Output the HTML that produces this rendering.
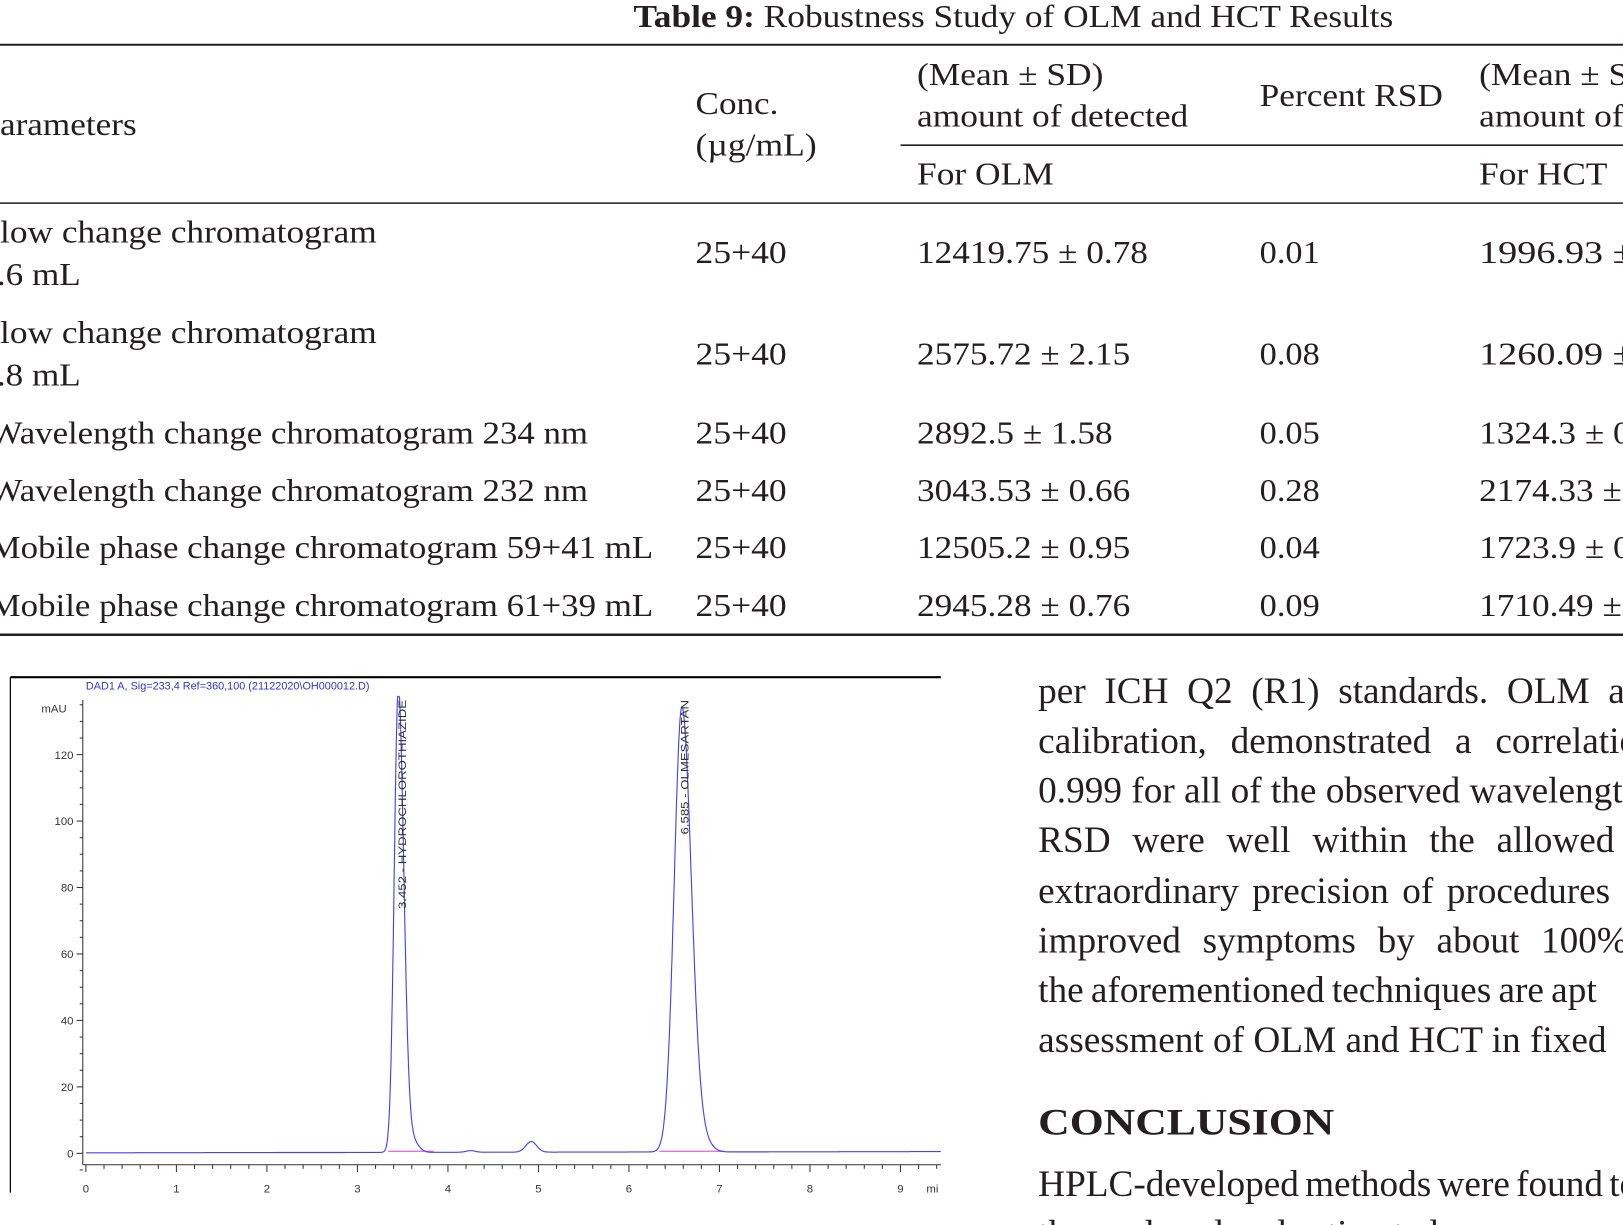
<!DOCTYPE html>
<html><head><meta charset="utf-8"><style>
html,body{margin:0;padding:0;background:#fff;width:1623px;height:1225px;overflow:hidden}
svg{display:block}
.t{font-family:"Liberation Serif",serif;font-size:31px;fill:#231f20}
.p{font-family:"Liberation Serif",serif;font-size:36px;fill:#231f20}
.s{font-family:"Liberation Sans",sans-serif;font-size:11px;fill:#333}
</style></head><body>
<svg width="1623" height="1225" viewBox="0 0 1568 1183" xmlns="http://www.w3.org/2000/svg">
<text class="t" x="612" y="26" textLength="734" lengthAdjust="spacingAndGlyphs"><tspan font-weight="bold">Table 9:</tspan> Robustness Study of OLM and HCT Results</text>
<line x1="0" y1="43" x2="1568" y2="43" stroke="#231f20" stroke-width="2"/>
<text class="t" x="0" y="130" textLength="132" lengthAdjust="spacingAndGlyphs">arameters</text>
<text class="t" x="672" y="110" textLength="80" lengthAdjust="spacingAndGlyphs">Conc.</text>
<text class="t" x="672" y="150" textLength="117" lengthAdjust="spacingAndGlyphs">(µg/mL)</text>
<text class="t" x="886" y="82" textLength="180" lengthAdjust="spacingAndGlyphs">(Mean ± SD)</text>
<text class="t" x="886" y="122" textLength="262" lengthAdjust="spacingAndGlyphs">amount of detected</text>
<text class="t" x="1217" y="102" textLength="177" lengthAdjust="spacingAndGlyphs">Percent RSD</text>
<text class="t" x="1429" y="82" textLength="180" lengthAdjust="spacingAndGlyphs">(Mean ± SD)</text>
<text class="t" x="1429" y="122" textLength="262" lengthAdjust="spacingAndGlyphs">amount of detected</text>
<line x1="870" y1="140" x2="1568" y2="140" stroke="#231f20" stroke-width="1.5"/>
<text class="t" x="886" y="178" textLength="132" lengthAdjust="spacingAndGlyphs">For OLM</text>
<text class="t" x="1429" y="178" textLength="124" lengthAdjust="spacingAndGlyphs">For HCT</text>
<line x1="0" y1="196" x2="1568" y2="196" stroke="#231f20" stroke-width="1.5"/>
<text class="t" x="0" y="234" textLength="364" lengthAdjust="spacingAndGlyphs">low change chromatogram</text>
<text class="t" x="-3" y="275" textLength="81" lengthAdjust="spacingAndGlyphs">.6 mL</text>
<text class="t" x="672" y="254" textLength="88" lengthAdjust="spacingAndGlyphs">25+40</text><text class="t" x="886" y="254" textLength="223" lengthAdjust="spacingAndGlyphs">12419.75 ± 0.78</text><text class="t" x="1217" y="254" textLength="58" lengthAdjust="spacingAndGlyphs">0.01</text><text class="t" x="1429" y="254" textLength="223" lengthAdjust="spacingAndGlyphs">1996.93 ± 0.16</text>
<text class="t" x="0" y="331" textLength="364" lengthAdjust="spacingAndGlyphs">low change chromatogram</text>
<text class="t" x="-3" y="372" textLength="81" lengthAdjust="spacingAndGlyphs">.8 mL</text>
<text class="t" x="672" y="352" textLength="88" lengthAdjust="spacingAndGlyphs">25+40</text><text class="t" x="886" y="352" textLength="206" lengthAdjust="spacingAndGlyphs">2575.72 ± 2.15</text><text class="t" x="1217" y="352" textLength="58" lengthAdjust="spacingAndGlyphs">0.08</text><text class="t" x="1429" y="352" textLength="223" lengthAdjust="spacingAndGlyphs">1260.09 ± 0.16</text>
<text class="t" x="-10" y="428" textLength="578" lengthAdjust="spacingAndGlyphs">Wavelength change chromatogram 234 nm</text>
<text class="t" x="672" y="428" textLength="88" lengthAdjust="spacingAndGlyphs">25+40</text><text class="t" x="886" y="428" textLength="189" lengthAdjust="spacingAndGlyphs">2892.5 ± 1.58</text><text class="t" x="1217" y="428" textLength="58" lengthAdjust="spacingAndGlyphs">0.05</text><text class="t" x="1429" y="428" textLength="189" lengthAdjust="spacingAndGlyphs">1324.3 ± 0.16</text>
<text class="t" x="-10" y="484" textLength="578" lengthAdjust="spacingAndGlyphs">Wavelength change chromatogram 232 nm</text>
<text class="t" x="672" y="484" textLength="88" lengthAdjust="spacingAndGlyphs">25+40</text><text class="t" x="886" y="484" textLength="206" lengthAdjust="spacingAndGlyphs">3043.53 ± 0.66</text><text class="t" x="1217" y="484" textLength="58" lengthAdjust="spacingAndGlyphs">0.28</text><text class="t" x="1429" y="484" textLength="206" lengthAdjust="spacingAndGlyphs">2174.33 ± 0.16</text>
<text class="t" x="-10" y="539" textLength="641" lengthAdjust="spacingAndGlyphs">Mobile phase change chromatogram 59+41 mL</text>
<text class="t" x="672" y="539" textLength="88" lengthAdjust="spacingAndGlyphs">25+40</text><text class="t" x="886" y="539" textLength="206" lengthAdjust="spacingAndGlyphs">12505.2 ± 0.95</text><text class="t" x="1217" y="539" textLength="58" lengthAdjust="spacingAndGlyphs">0.04</text><text class="t" x="1429" y="539" textLength="189" lengthAdjust="spacingAndGlyphs">1723.9 ± 0.16</text>
<text class="t" x="-10" y="595" textLength="641" lengthAdjust="spacingAndGlyphs">Mobile phase change chromatogram 61+39 mL</text>
<text class="t" x="672" y="595" textLength="88" lengthAdjust="spacingAndGlyphs">25+40</text><text class="t" x="886" y="595" textLength="206" lengthAdjust="spacingAndGlyphs">2945.28 ± 0.76</text><text class="t" x="1217" y="595" textLength="58" lengthAdjust="spacingAndGlyphs">0.09</text><text class="t" x="1429" y="595" textLength="206" lengthAdjust="spacingAndGlyphs">1710.49 ± 0.16</text>
<line x1="0" y1="613" x2="1568" y2="613" stroke="#231f20" stroke-width="2.5"/>

<text class="p" x="1003" y="679" word-spacing="9">per ICH Q2 (R1) standards. OLM and</text>
<text class="p" x="1003" y="727" word-spacing="14">calibration, demonstrated a correlation</text>
<text class="p" x="1003" y="775">0.999 for all of the observed wavelengths</text>
<text class="p" x="1003" y="823" word-spacing="12">RSD were well within the allowed limit</text>
<text class="p" x="1003" y="872" word-spacing="4">extraordinary precision of procedures</text>
<text class="p" x="1003" y="920" word-spacing="12">improved symptoms by about 100%</text>
<text class="p" x="1003" y="968" word-spacing="-2">the aforementioned techniques are apt</text>
<text class="p" x="1003" y="1016">assessment of OLM and HCT in fixed</text>
<text class="p" x="1003" y="1096" font-weight="bold" textLength="286" lengthAdjust="spacingAndGlyphs">CONCLUSION</text>
<text class="p" x="1003" y="1155" word-spacing="-3">HPLC-developed methods were found to</text>
<text class="p" x="1003" y="1203">the analysed and estimated</text>

<!-- chart -->
<line x1="10" y1="654" x2="909" y2="654" stroke="#000" stroke-width="2"/>
<line x1="10" y1="654" x2="10" y2="1152" stroke="#000" stroke-width="1.2"/>
<text x="83" y="666" font-family="Liberation Sans,sans-serif" font-size="10.5" fill="#3333cc">DAD1 A, Sig=233,4 Ref=360,100 (21122020\OH000012.D)</text>
<text class="s" x="40" y="688" font-size="10">mAU</text>
<g id="ax" stroke="#333" stroke-width="1"></g>
<g id="lab"></g>
<line x1="80" y1="676" x2="80" y2="1125" stroke="#333"/>
<line x1="80" y1="1125" x2="909" y2="1125" stroke="#333"/>
<line x1="375" y1="1112" x2="419" y2="1112" stroke="#e060e0" stroke-width="1.2"/>
<line x1="637" y1="1112" x2="700" y2="1112" stroke="#e060e0" stroke-width="1.2"/>
<path id="sig" fill="none" stroke="#4444ee" stroke-width="1.1"/>
<text class="s" font-size="10.5" transform="translate(392,878) rotate(-90)" textLength="202" lengthAdjust="spacingAndGlyphs">3.452 - HYDROCHLOROTHIAZIDE</text>
<text class="s" font-size="10.5" transform="translate(665,806) rotate(-90)" textLength="130" lengthAdjust="spacingAndGlyphs">6.585 - OLMESARTAN</text>
<text class="s" x="895" y="1152" font-size="9">mi</text>
<script>
(function(){
var ns="http://www.w3.org/2000/svg",ax=document.getElementById("ax"),lab=document.getElementById("lab");
function X(t){return 83+t*87.44;}function Y(v){return 1114-v*3.21;}
function ln(a,b,c,d){var l=document.createElementNS(ns,"line");l.setAttribute("x1",a);l.setAttribute("y1",b);l.setAttribute("x2",c);l.setAttribute("y2",d);ax.appendChild(l);}
function tx(x,y,s,anc){var t=document.createElementNS(ns,"text");t.setAttribute("x",x);t.setAttribute("y",y);t.setAttribute("class","s");t.setAttribute("font-size","10");t.setAttribute("text-anchor",anc);t.textContent=s;lab.appendChild(t);}
for(var v=-5;v<=135;v+=5){var y=Y(v);if(y<676)continue;var maj=v%20==0&&v>=0;ln(maj?74:77,y,80,y);if(maj)tx(71,y+4,String(v),"end");}
for(var i=0;i<=47;i++){var t=i*0.2,x=X(t);if(x>909)break;var maj=i%5==0;ln(x,1125,x,maj?1132:1129);if(maj)tx(x,1152,String(t),"middle");}
function g(t,c,s,h){return h*Math.exp(-0.5*Math.pow((t-c)/s,2));}
function sig(t){var v=0.15+0.04*t;
var s1=t<3.452?0.045:0.06;v+=g(t,3.452,s1,140);v+=g(t,3.62,0.06,3);
v+=g(t,4.25,0.05,0.5);v+=g(t,4.92,0.06,3.2);
var s2=t<6.585?0.085:0.105;v+=g(t,6.585,s2,134);v+=g(t,6.85,0.08,2);
return Math.min(v,137.5);}
var d="";for(var t=0;t<=9.45;t+=0.005){d+=(d?"L":"M")+X(t).toFixed(1)+","+Y(sig(t)).toFixed(1);}
document.getElementById("sig").setAttribute("d",d);
})();
</script>
</svg>
</body></html>
